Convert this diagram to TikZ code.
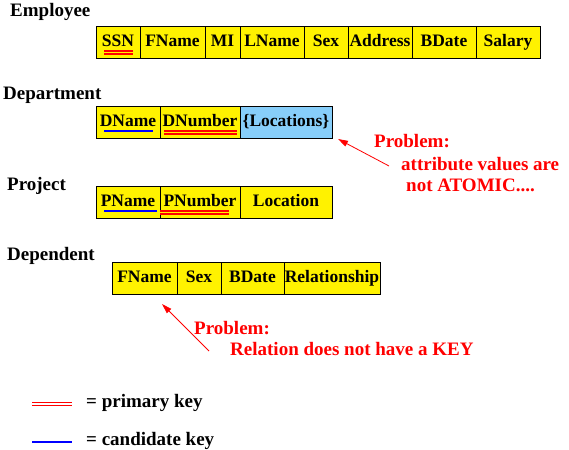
\documentclass[tikz,border=0pt]{standalone}
\usepackage{fontspec}
\setmainfont{Liberation Serif}
\usetikzlibrary{arrows.meta,positioning}
\definecolor{locblue}{RGB}{135,206,250}

\begin{document}
\begin{tikzpicture}[
  x=1pt, y=-1pt,
  font=\bfseries\fontsize{19}{23}\selectfont,
  cell/.style={draw,line width=0.9pt,fill=yellow,inner sep=0pt,outer sep=0pt,minimum height=32pt,
    text height=12pt,text depth=3pt,font=\bfseries\fontsize{17.5}{21}\selectfont},
  multi/.style={cell,fill=locblue},
  tablename/.style={anchor=base west,inner sep=0pt},
  problem/.style={anchor=base west,inner sep=0pt,text=red},
  pkey/.style={draw=red,line width=1.5pt,double=#1,double distance=1.5pt},
  pkey/.default=yellow,
  ckey/.style={draw=blue,line width=1.6pt},
  flag/.style={draw=red,line width=0.8pt,-{Triangle[length=10pt,width=6pt]}}
]
\useasboundingbox (0,0) rectangle (569,449);

% Employee
\node[tablename] (emp) at (10,16.5) {Employee};
\node[cell,minimum width=44pt,anchor=west] (ssn) at (96,42) {SSN};
\node[cell,minimum width=65pt,right=0pt of ssn] (fname) {FName};
\node[cell,minimum width=35pt,right=0pt of fname] (mi) {MI};
\node[cell,minimum width=64pt,right=0pt of mi] (lname) {LName};
\node[cell,minimum width=44pt,right=0pt of lname] (sex) {Sex};
\node[cell,minimum width=64pt,right=0pt of sex] (address) {Address};
\node[cell,minimum width=64pt,right=0pt of address] (bdate) {BDate};
\node[cell,minimum width=64pt,right=0pt of bdate] (salary) {Salary};
\draw[pkey] ([shift={(8,-5.5)}]ssn.south west) -- ([shift={(-7,-5.5)}]ssn.south east);

% Department
\node[tablename] (dept) at (3,100) {Department};
\node[cell,minimum width=64pt,anchor=west] (dname) at (96,122) {DName};
\node[cell,minimum width=80pt,right=0pt of dname] (dnum) {DNumber};
\node[multi,minimum width=92pt,right=0pt of dnum] (loc) {\{Locations\}};
\draw[ckey] ([shift={(8,-7)}]dname.south west) -- ([shift={(-7,-7)}]dname.south east);
\draw[pkey] ([shift={(4,-5.5)}]dnum.south west) -- ([shift={(-3,-5.5)}]dnum.south east);

\node[problem] (prob1) at (374,147) {Problem:};
\node[problem] (attr) at (401,170) {attribute values are};
\node[problem] (atomic) at (406,191) {not ATOMIC....};
\draw[flag] ([shift={(-12,-4)}]attr.base west) -- ([shift={(6,1)}]loc.south east);

% Project
\node[tablename] (proj) at (7,190) {Project};
\node[cell,minimum width=64pt,anchor=west] (pname) at (96,202) {PName};
\node[cell,minimum width=80pt,right=0pt of pname] (pnum) {PNumber};
\node[cell,minimum width=92pt,right=0pt of pnum] (ploc) {Location};
\draw[ckey] ([shift={(8,-7)}]pname.south west) -- ([shift={(-3,-7)}]pname.south east);
\draw[pkey] ([shift={(0,-5.5)}]pnum.south west) -- ([shift={(-11,-5.5)}]pnum.south east);

% Dependent
\node[tablename] (dep) at (7,260) {Dependent};
\node[cell,minimum width=65pt,anchor=west] (depfname) at (112,278) {FName};
\node[cell,minimum width=44pt,right=0pt of depfname] (depsex) {Sex};
\node[cell,minimum width=63pt,right=0pt of depsex] (depbdate) {BDate};
\node[cell,minimum width=96pt,right=0pt of depbdate] (rel) {Relationship};

\node[problem] (prob2) at (194,334) {Problem:};
\node[problem] (nokey) at (230,355) {Relation does not have a KEY};
\draw[flag] ([shift={(-21,-4)}]nokey.base west) -- ([shift={(17.5,10)}]depfname.south);

% legend
\node[tablename] (pklabel) at (86,407) {= primary key};
\node[tablename] (cklabel) at (86,445) {= candidate key};
\draw[pkey=white] ([shift={(-54,-3)}]pklabel.base west) -- ([shift={(-14,-3)}]pklabel.base west);
\draw[ckey] ([shift={(-54,-3)}]cklabel.base west) -- ([shift={(-14,-3)}]cklabel.base west);
\end{tikzpicture}
\end{document}
